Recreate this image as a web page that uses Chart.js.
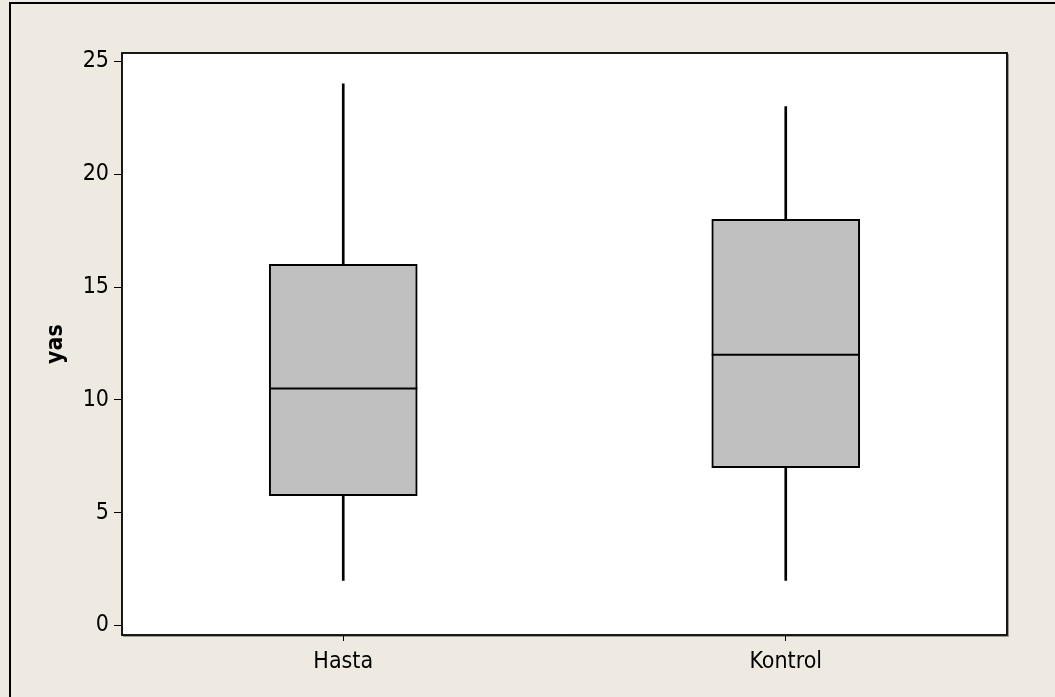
<!DOCTYPE html>
<html>
<head>
<meta charset="utf-8">
<script src="https://cdn.jsdelivr.net/npm/chart.js@4/dist/chart.umd.min.js"></script>
<style>
  html, body { margin: 0; padding: 0; background: #EEEAE1; }
  #wrap { width: 1055px; height: 697px; position: relative; }
</style>
</head>
<body>
<div id="wrap"><canvas id="c" width="1055" height="697"></canvas></div>
<script>
// Five-number summaries of "yas" per group
const categories = ['Hasta', 'Kontrol'];
const minValues    = [2, 2];
const q1Values     = [5.75, 7];
const medianValues = [10.5, 12];
const q3Values     = [16, 18];
const maxValues    = [24, 23];
const yTicks = [0, 5, 10, 15, 20, 25];

const FONT = "'DejaVu Sans Condensed', 'DejaVu Sans', sans-serif";
const BG = '#EEEAE1';

// Outer panel fill and frame
const framePlugin = {
  id: 'frame',
  beforeDraw(chart) {
    const ctx = chart.ctx;
    ctx.save();
    ctx.fillStyle = BG;
    ctx.fillRect(0, 0, chart.width, chart.height);
    ctx.strokeStyle = '#000';
    ctx.lineWidth = 2;
    ctx.beginPath();
    ctx.moveTo(10, chart.height + 2);
    ctx.lineTo(10, 3);
    ctx.lineTo(chart.width + 2, 3);
    ctx.stroke();
    // white data region
    const a = chart.chartArea;
    ctx.fillStyle = '#fff';
    ctx.fillRect(a.left, a.top, a.right - a.left, a.bottom - a.top);
    ctx.restore();
  },
  afterDraw(chart) {
    const ctx = chart.ctx;
    const a = chart.chartArea;
    ctx.save();
    // soft shadow along the bottom and right of the data region
    ctx.strokeStyle = 'rgba(0,0,0,0.35)';
    ctx.lineWidth = 1;
    ctx.beginPath();
    ctx.moveTo(a.left + 1, a.bottom + 1.5);
    ctx.lineTo(a.right + 1.5, a.bottom + 1.5);
    ctx.lineTo(a.right + 1.5, a.top + 1);
    ctx.stroke();
    ctx.strokeStyle = '#000';
    ctx.lineWidth = 1.8;
    ctx.strokeRect(a.left, a.top, a.right - a.left, a.bottom - a.top);
    ctx.restore();
  }
};

// Median line across each box, placed with the value scale
const medianPlugin = {
  id: 'medians',
  afterDatasetsDraw(chart) {
    const meta = chart.getDatasetMeta(0);
    const y = chart.scales.y;
    const ctx = chart.ctx;
    ctx.save();
    ctx.strokeStyle = '#000';
    ctx.lineWidth = 2;
    meta.data.forEach((bar, i) => {
      const py = y.getPixelForValue(medianValues[i]);
      const half = bar.width / 2;
      ctx.beginPath();
      ctx.moveTo(bar.x - half, py);
      ctx.lineTo(bar.x + half, py);
      ctx.stroke();
    });
    ctx.restore();
  }
};

new Chart(document.getElementById('c'), {
  type: 'bar',
  data: {
    labels: categories,
    datasets: [
      {
        label: 'box',
        data: categories.map((_, i) => [q1Values[i], q3Values[i]]),
        backgroundColor: '#C0C0C0',
        borderColor: '#000',
        borderWidth: 2,
        borderSkipped: false,
        barThickness: 148,
        grouped: false
      },
      {
        label: 'whisker',
        data: categories.map((_, i) => [minValues[i], maxValues[i]]),
        backgroundColor: '#000',
        borderWidth: 0,
        barThickness: 2,
        grouped: false
      }
    ]
  },
  options: {
    responsive: false,
    animation: false,
    devicePixelRatio: 1,
    layout: { padding: { left: 0, top: 53, right: 48, bottom: 0 } },
    plugins: { legend: { display: false }, tooltip: { enabled: false } },
    scales: {
      x: {
        offset: true,
        grid: { offset: false, drawOnChartArea: false, color: '#000', tickLength: 6, tickWidth: 1 },
        border: { display: false },
        ticks: { color: '#000', padding: 7, font: { family: FONT, size: 23 } },
        afterFit(s) { s.height = 62; }
      },
      y: {
        min: -0.42,
        max: 25.37,
        grid: { drawOnChartArea: false, color: '#000', tickLength: 8, tickWidth: 1 },
        border: { display: false },
        ticks: { color: '#000', padding: 5, font: { family: FONT, size: 23 } },
        afterBuildTicks(s) { s.ticks = yTicks.map(v => ({ value: v })); },
        title: {
          display: true,
          text: 'yas',
          color: '#000',
          font: { family: FONT, size: 23, weight: 'bold' },
          padding: { top: 42, bottom: 0 }
        },
        afterFit(s) { s.width = 122; }
      }
    }
  },
  plugins: [framePlugin, medianPlugin]
});
</script>
</body>
</html>
